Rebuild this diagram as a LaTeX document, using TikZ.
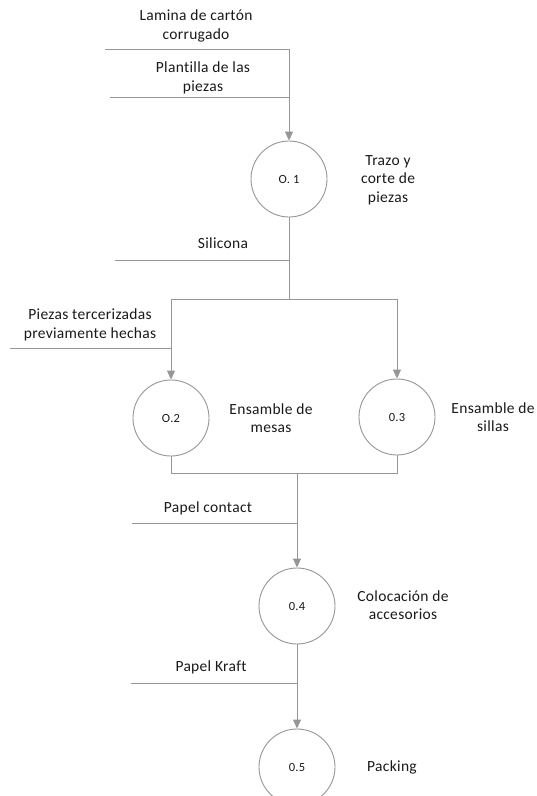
\documentclass[tikz,border=0pt]{standalone}
\usepackage{fontspec}
\setmainfont{Carlito}[LetterSpace=2,Ligatures={NoCommon}]
\usetikzlibrary{arrows.meta}
\definecolor{ln}{RGB}{150,150,150}
\definecolor{tx}{RGB}{25,25,25}
\begin{document}
\begin{tikzpicture}[x=1pt,y=-1pt,
  flow/.style={draw=ln,line width=0.9pt},
  arr/.style={flow,-{Triangle[width=8pt,length=9pt]},shorten >=0pt},
  proc/.style={circle,draw=ln,line width=0.9pt,minimum size=76pt,inner sep=0pt,font=\fontsize{12.5}{15}\selectfont,text=tx},
  lbl/.style={align=center,font=\fontsize{15.5}{18.5}\selectfont,text=tx,inner sep=0pt}]
\useasboundingbox (0,0) rectangle (537,796);
% processes
\node[proc] (c1) at (289,179) {O. 1};
\node[proc] (c2) at (171,418) {O.2};
\node[proc] (c3) at (397,417) {0.3};
\node[proc] (c4) at (297,606) {0.4};
\node[proc] (c5) at (297,767) {0.5};
% labels
\node[lbl] (tLam) at (196,26) {Lamina de cartón\\corrugado};
\node[lbl] (tPla) at (203,78) {Plantilla de las\\piezas};
\node[lbl] (tTra) at (388,180) {Trazo y\\corte de\\piezas};
\node[lbl] (tSil) at (223,243) {Silicona};
\node[lbl] (tPie) at (90,325) {Piezas tercerizadas\\previamente hechas};
\node[lbl] (tMes) at (271,418) {Ensamble de\\mesas};
\node[lbl] (tSil2) at (493,417) {Ensamble de\\sillas};
\node[lbl] (tPap) at (208,508) {Papel contact};
\node[lbl] (tCol) at (403,605) {Colocación de\\accesorios};
\node[lbl] (tKra) at (211,667) {Papel Kraft};
\node[lbl] (tPac) at (392,767) {Packing};
% coordinates
\coordinate (a1) at (105,49);
\coordinate (a2) at (289,49);
\coordinate (b1) at (110,97);
\coordinate (b2) at (289,97);
\coordinate (s1) at (115,260);
\coordinate (s2) at (289,260);
\coordinate (j1) at (289,299);
\coordinate (jl) at (171,299);
\coordinate (jr) at (397,299);
\coordinate (p1) at (10,348);
\coordinate (p2) at (171,348);
\coordinate (m1) at (171,473);
\coordinate (m2) at (397,473);
\coordinate (m3) at (297,473);
\coordinate (k1) at (132,523);
\coordinate (k2) at (297,523);
\coordinate (f1) at (131,683);
\coordinate (f2) at (297,683);
% connectors
\draw[flow] (a1) -- (a2);
\draw[arr] (a2) -- (c1.north);
\draw[flow] (b1) -- (b2);
\draw[flow] (c1.south) -- (j1);
\draw[flow] (s1) -- (s2);
\draw[flow] (jl) -- (jr);
\draw[arr] (jl) -- (c2.north);
\draw[arr] (jr) -- (c3.north);
\draw[flow] (p1) -- (p2);
\draw[flow] (c2.south) -- (m1) -- (m2) -- (c3.south);
\draw[arr] (m3) -- (c4.north);
\draw[flow] (k1) -- (k2);
\draw[arr] (c4.south) -- (c5.north);
\draw[flow] (f1) -- (f2);
\end{tikzpicture}
\end{document}
